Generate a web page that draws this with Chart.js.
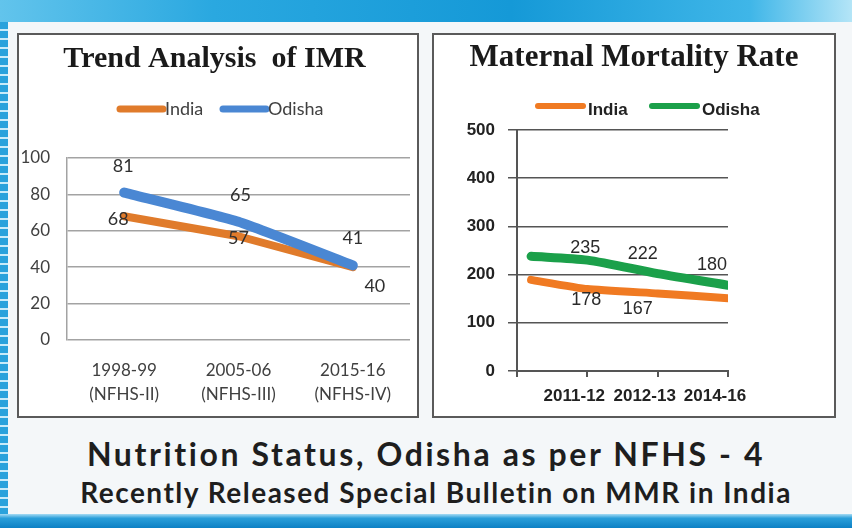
<!DOCTYPE html>
<html><head><meta charset="utf-8">
<script src="https://cdn.jsdelivr.net/npm/chart.js@4.4.0/dist/chart.umd.min.js"></script>
<style>
html,body{margin:0;padding:0;}
body{width:852px;height:528px;position:relative;overflow:hidden;background:#f4f7f9;}
#topband{position:absolute;left:0;top:0;width:852px;height:22px;background:linear-gradient(90deg,#62c4ec 0%,#2aa8e0 25%,#1599d7 60%,#3fb6e8 88%,#b4e5f7 100%);}
#botband{position:absolute;left:0;top:514px;width:852px;height:14px;background:linear-gradient(180deg,#a6dcf4 0,#2a9fda 30%,#0d80c4 100%);}
#leftedge{position:absolute;left:0;top:22px;width:8px;height:492px;background:repeating-linear-gradient(180deg,#2aa2dc 0 7px,#c9ebf9 7px 9px);}
.box{position:absolute;top:33px;height:385px;background:#fff;border:2px solid #5a5a5a;box-sizing:border-box;}
#box1{left:17px;width:402px;}
#box2{left:432px;width:404px;}
.box canvas{position:absolute;left:0;top:0;}
.cap{position:absolute;left:0;width:852px;text-align:center;color:#1e1e1e;font-family:Lato,sans-serif;font-weight:700;white-space:nowrap;}
#cap1{top:436px;font-size:32px;line-height:36px;letter-spacing:2.6px;}
#cap2{top:476px;left:10px;font-size:28px;line-height:32px;letter-spacing:1.5px;}
</style></head>
<body>
<div id="topband"></div><div id="leftedge"></div><div id="botband"></div>
<div class="box" id="box1"><canvas id="c1" width="398" height="381"></canvas></div>
<div class="box" id="box2"><canvas id="c2" width="400" height="381"></canvas></div>
<div class="cap" id="cap1">Nutrition Status, Odisha as per NFHS - 4</div>
<div class="cap" id="cap2">Recently Released Special Bulletin on MMR in India</div>
<script>
// ---- IMR chart data ----
const imrCategories = [['1998-99','(NFHS-II)'],['2005-06','(NFHS-III)'],['2015-16','(NFHS-IV)']];
const imrIndia = [68, 57, 40];
const imrOdisha = [81, 65, 41];
const imrTicks = [0, 20, 40, 60, 80, 100];

// ---- MMR chart data ----
const mmrPeriods = ['2011-12', '2012-13', '2014-16'];
const mmrPosition = [0.2, 1, 2, 3];
const mmrIndia = [189, 170, 161, 151];
const mmrOdisha = [238, 230, 202, 178];
const mmrIndiaText = ['', '178', '167', ''];
const mmrOdishaText = ['', '235', '222', '180'];
const mmrTicks = [0, 100, 200, 300, 400, 500];

const valueLabels = {
  id: 'valueLabels',
  afterDatasetsDraw(chart, args, opts) {
    const ctx = chart.ctx;
    ctx.save();
    ctx.font = opts.font; ctx.fillStyle = opts.color;
    ctx.textAlign = 'center'; ctx.textBaseline = 'middle';
    chart.data.datasets.forEach((ds, i) => {
      const meta = chart.getDatasetMeta(i);
      (ds.valueText || []).forEach((t, j) => {
        if (!t) return;
        const o = opts.offsets[i][j] || [0, 0];
        ctx.fillText(t, meta.data[j].x + o[0], meta.data[j].y + o[1]);
      });
    });
    ctx.restore();
  }
};
const lineLegend = {
  id: 'lineLegend',
  afterDraw(chart, args, opts) {
    const ctx = chart.ctx;
    ctx.save();
    chart.data.datasets.forEach((ds, i) => {
      const it = opts.items[i];
      ctx.strokeStyle = ds.borderColor; ctx.lineWidth = opts.lineWidth; ctx.lineCap = 'round';
      ctx.beginPath(); ctx.moveTo(it.x, opts.y); ctx.lineTo(it.x + it.len, opts.y); ctx.stroke();
      ctx.font = opts.font; ctx.fillStyle = opts.color; ctx.textAlign = 'left'; ctx.textBaseline = 'middle';
      ctx.fillText(ds.label, it.x + it.len + opts.gap, opts.y + opts.textDy);
    });
    ctx.restore();
  }
};

new Chart(document.getElementById('c1'), {
  type: 'line',
  data: {
    labels: imrCategories,
    datasets: [
      { label: 'India', data: imrIndia, valueText: imrIndia.map(String), borderColor: '#e07b2b', borderWidth: 8,
        pointRadius: 0, tension: 0, borderCapStyle: 'round', borderJoinStyle: 'round', order: 1 },
      { label: 'Odisha', data: imrOdisha, valueText: imrOdisha.map(String), borderColor: '#4a87d3', borderWidth: 10,
        pointRadius: 0, tension: 0.15, borderCapStyle: 'round', borderJoinStyle: 'round', order: 0 }
    ]
  },
  options: {
    responsive: false, animation: false, devicePixelRatio: 1,
    layout: { padding: { left: 0, right: 7, top: 0, bottom: 0 } },
    plugins: {
      legend: { display: false }, tooltip: { enabled: false },
      title: { display: true, text: 'Trend Analysis  of IMR', color: '#1a1a1a',
        font: { family: '"Liberation Serif", serif', size: 30, weight: 'bold', lineHeight: 1.2 }, padding: { top: 6, bottom: 81 } },
      valueLabels: { font: '18px Lato', color: '#303030',
        offsets: [[[-6, 3], [0, 2], [22, 19]], [[-1, -26], [2, -27], [0, -27]]] },
      lineLegend: { y: 74, lineWidth: 7, gap: 2, textDy: 0, font: '18px Lato', color: '#404040',
        items: [{ x: 101, len: 43 }, { x: 204, len: 43 }] }
    },
    scales: {
      x: { offset: true, grid: { display: false }, border: { display: false },
        ticks: { font: { family: 'Lato', size: 17, lineHeight: 1.45 }, color: '#404040', padding: 10, maxRotation: 0, autoSkip: false },
        afterFit(s) { s.height = 76; } },
      y: { min: imrTicks[0], max: imrTicks[imrTicks.length - 1],
        ticks: { stepSize: imrTicks[1] - imrTicks[0], font: { family: 'Lato', size: 17 }, color: '#404040', padding: 17 },
        grid: { color: '#a3a3a3', lineWidth: 1.5, drawTicks: false },
        border: { display: true, color: '#a3a3a3', width: 1.5 },
        afterFit(s) { s.width = 48; } }
    }
  },
  plugins: [valueLabels, lineLegend]
});

new Chart(document.getElementById('c2'), {
  type: 'line',
  data: {
    datasets: [
      { label: 'India', data: mmrPosition.map((x, i) => ({ x, y: mmrIndia[i] })), valueText: mmrIndiaText,
        borderColor: '#f07a22', borderWidth: 8, pointRadius: 0, tension: 0.15, borderCapStyle: 'round', borderJoinStyle: 'round' },
      { label: 'Odisha', data: mmrPosition.map((x, i) => ({ x, y: mmrOdisha[i] })), valueText: mmrOdishaText,
        borderColor: '#1ba04a', borderWidth: 9, pointRadius: 0, tension: 0.25, borderCapStyle: 'round', borderJoinStyle: 'round' }
    ]
  },
  options: {
    responsive: false, animation: false, devicePixelRatio: 1,
    layout: { padding: 0 },
    plugins: {
      legend: { display: false }, tooltip: { enabled: false },
      title: { display: true, text: 'Maternal Mortality Rate', color: '#1a1a1a',
        font: { family: '"Liberation Serif", serif', size: 31, weight: 'bold', lineHeight: 1.2 }, padding: { top: 4, bottom: 53.8 } },
      valueLabels: { font: '18px "Liberation Sans"', color: '#2a2a2a',
        offsets: [[null, [-1, 11], [-20, 16], null], [null, [-2, -12], [-15, -20], [-16, -20]]] },
      lineLegend: { y: 71, lineWidth: 6, gap: 5, textDy: 4, font: 'bold 17px "Liberation Sans"', color: '#222',
        items: [{ x: 104, len: 45 }, { x: 218, len: 45 }] }
    },
    scales: {
      x: { type: 'linear', min: 0, max: 3,
        ticks: { stepSize: 1, callback: v => mmrPeriods[v - 1] || '', labelOffset: -13, padding: 9,
          font: { family: '"Liberation Sans"', size: 17, weight: 'bold' }, color: '#222', maxRotation: 0, autoSkip: false },
        grid: { drawOnChartArea: false, drawTicks: true, tickLength: 6, color: '#555', lineWidth: 2 },
        border: { display: true, color: '#555', width: 2 },
        afterFit(s) { s.height = 45; } },
      y: { min: mmrTicks[0], max: mmrTicks[mmrTicks.length - 1],
        ticks: { stepSize: mmrTicks[1] - mmrTicks[0], font: { family: '"Liberation Sans"', size: 17, weight: 'bold' }, color: '#222', padding: 13 },
        grid: { color: '#555', lineWidth: 1.5, drawTicks: true, tickLength: 9 },
        border: { display: true, color: '#555', width: 2 },
        afterFit(s) { s.width = 83; } },
      yPad: { position: 'right', display: true, grid: { display: false }, border: { display: false },
        ticks: { display: false }, afterFit(s) { s.width = 106; } }
    }
  },
  plugins: [valueLabels, lineLegend]
});
</script>
</body></html>
